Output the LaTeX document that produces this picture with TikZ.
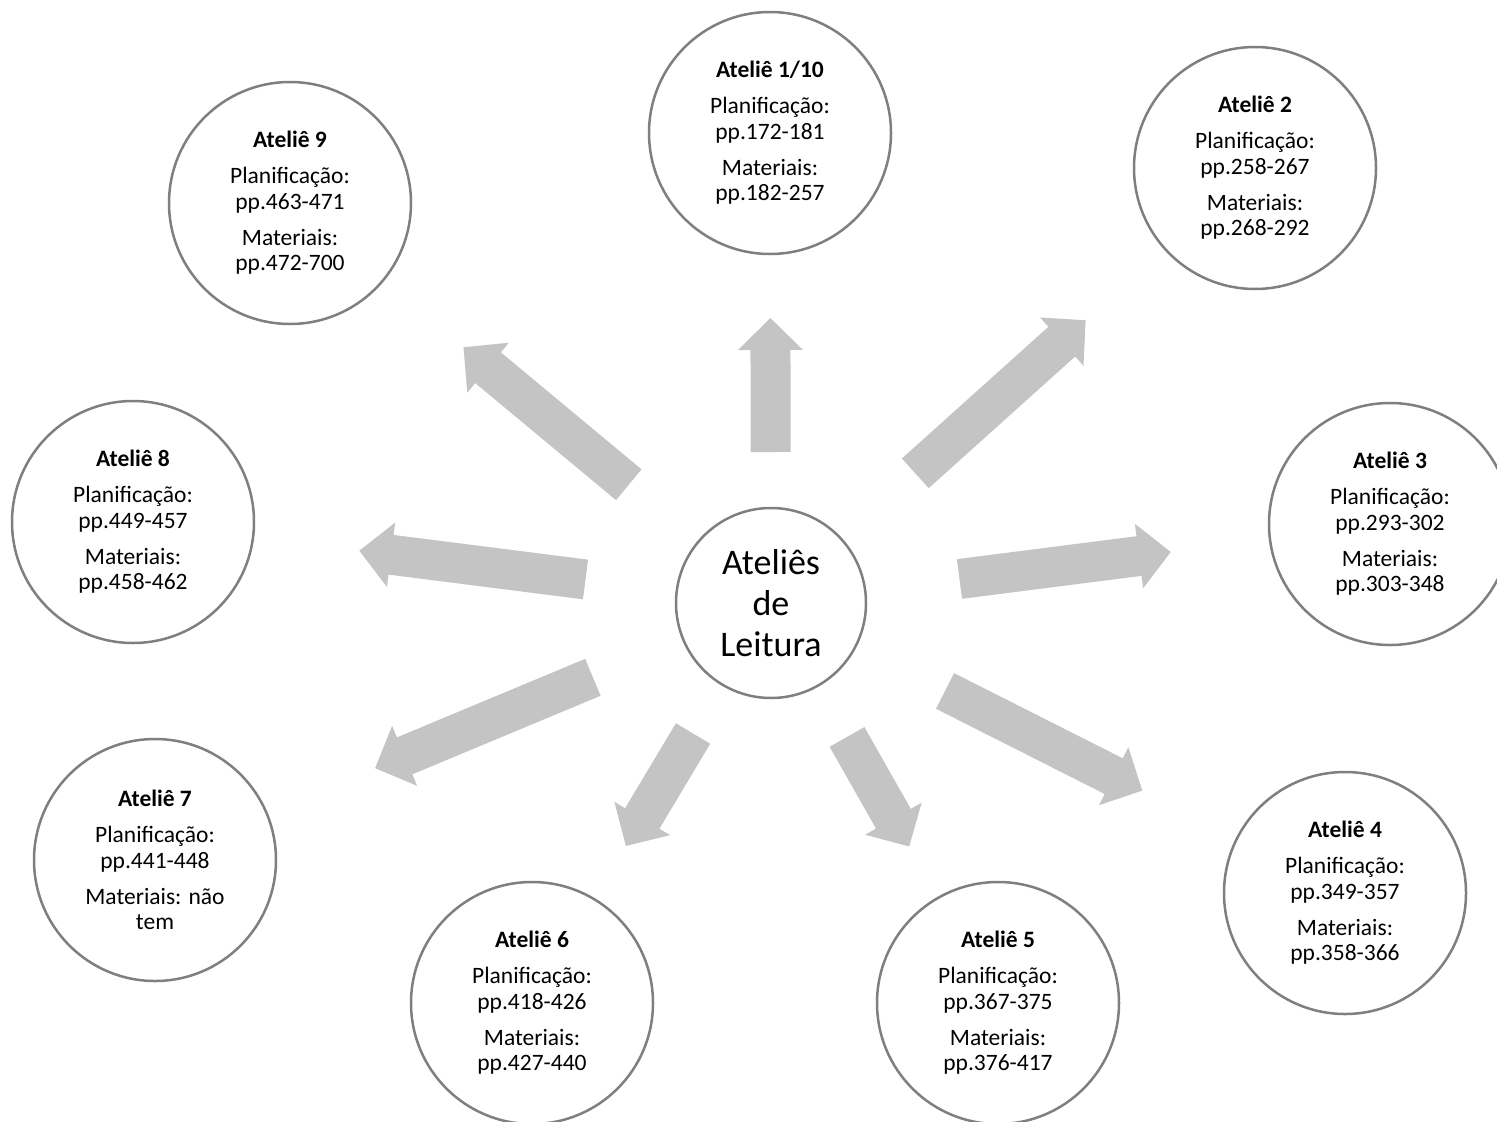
\documentclass[tikz,border=0pt]{standalone}
\usepackage{fontspec}
\setmainfont{Carlito}
\usetikzlibrary{calc}
\definecolor{ringgray}{HTML}{7F7F7F}
\definecolor{arrowgray}{HTML}{C4C4C4}

\begin{document}
\begin{tikzpicture}[x=1pt,y=-1pt,
        atelie/.style={circle,draw=ringgray,line width=2.5pt,minimum size=242pt,
            inner sep=0pt,align=center,font=\fontsize{23.5}{25.5}\selectfont},
        hub/.style={circle,draw=ringgray,line width=2.5pt,minimum size=190pt,
            inner sep=0pt,align=center,font=\fontsize{36}{41}\selectfont},
        seta/.style={fill=arrowgray,to path={
            ($(\tikztostart)!20pt!90:(\tikztotarget)$)
            -- ($(\tikztotarget)!32pt!(\tikztostart)!20pt!-90:(\tikztostart)$)
            -- ($(\tikztotarget)!32pt!(\tikztostart)!32.5pt!-90:(\tikztostart)$)
            -- (\tikztotarget)
            -- ($(\tikztotarget)!32pt!(\tikztostart)!32.5pt!90:(\tikztostart)$)
            -- ($(\tikztotarget)!32pt!(\tikztostart)!20pt!90:(\tikztostart)$)
            -- ($(\tikztostart)!20pt!-90:(\tikztotarget)$) -- cycle}}
    ]
    \useasboundingbox (0,0) rectangle (1497,1122);
    \node[hub] (c) at (771,603) {Ateliês\\ de\\ Leitura};
    \node[atelie] (a1) at (770,133) {\textbf{Ateliê 1/10}\\[10.5pt] Planificação:\\ pp.172-181\\[10.5pt] Materiais:\\ pp.182-257};
    \node[atelie] (a2) at (1255,168) {\textbf{Ateliê 2}\\[10.5pt] Planificação:\\ pp.258-267\\[10.5pt] Materiais:\\ pp.268-292};
    \node[atelie] (a3) at (1390,524) {\textbf{Ateliê 3}\\[10.5pt] Planificação:\\ pp.293-302\\[10.5pt] Materiais:\\ pp.303-348};
    \node[atelie] (a4) at (1345,893) {\textbf{Ateliê 4}\\[10.5pt] Planificação:\\ pp.349-357\\[10.5pt] Materiais:\\ pp.358-366};
    \node[atelie] (a5) at (998,1003) {\textbf{Ateliê 5}\\[10.5pt] Planificação:\\ pp.367-375\\[10.5pt] Materiais:\\ pp.376-417};
    \node[atelie] (a6) at (532,1003) {\textbf{Ateliê 6}\\[10.5pt] Planificação:\\ pp.418-426\\[10.5pt] Materiais:\\ pp.427-440};
    \node[atelie] (a7) at (155,860) {\textbf{Ateliê 7}\\[10.5pt] Planificação:\\ pp.441-448\\[10.5pt] Materiais: não\\ tem};
    \node[atelie] (a8) at (133,522) {\textbf{Ateliê 8}\\[10.5pt] Planificação:\\ pp.449-457\\[10.5pt] Materiais:\\ pp.458-462};
    \node[atelie] (a9) at (290,203) {\textbf{Ateliê 9}\\[10.5pt] Planificação:\\ pp.463-471\\[10.5pt] Materiais:\\ pp.472-700};
    % setas do centro para cada atelie
    \fill[seta] ($(c)!151pt!(a1)$) to ($(c)!285pt!(a1)$);
    \fill[seta] ($(c)!194pt!(a2)$) to ($(c)!423pt!(a2)$);
    \fill[seta] ($(c)!190pt!(a3)$) to ($(c)!403pt!(a3)$);
    \fill[seta] ($(c)!195pt!(a4)$) to ($(c)!416pt!(a4)$);
    \fill[seta] ($(c)!154pt!(a5)$) to ($(c)!280pt!(a5)$);
    \fill[seta] ($(c)!152pt!(a6)$) to ($(c)!283pt!(a6)$);
    \fill[seta] ($(c)!193pt!(a7)$) to ($(c)!429pt!(a7)$);
    \fill[seta] ($(c)!187pt!(a8)$) to ($(c)!415pt!(a8)$);
    \fill[seta] ($(c)!185pt!(a9)$) to ($(c)!400pt!(a9)$);
\end{tikzpicture}
\end{document}
